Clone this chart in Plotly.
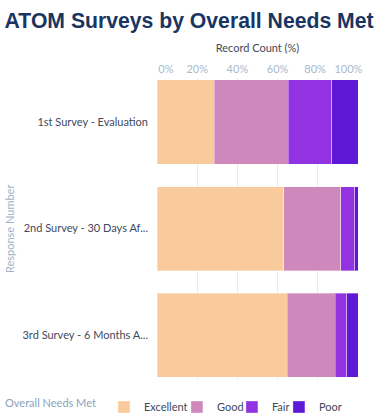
import plotly.graph_objects as go

categories = ["1st Survey - Evaluation", "2nd Survey - 30 Days Af...", "3rd Survey - 6 Months A..."]
series_names = ["Excellent", "Good", "Fair", "Poor"]
excellent = [28.4, 63.0, 64.8]
good = [36.8, 28.5, 23.8]
fair = [21.7, 7.0, 5.8]
poor = [13.1, 1.5, 5.6]
tick_vals = [0, 20, 40, 60, 80, 100]
tick_text = ["\u2002\u2002\u2002\u20090%", "20%", "40%", "60%",
             "80%\u2002", "100%\u2002\u2002\u2002\u2009\u2009"]

colors = ["#F8CA9C", "#CF88BC", "#9232E0", "#5D19D5"]
legend_widths = [28, 10, 2, 26]
values = [excellent, good, fair, poor]

fig = go.Figure()
for name, vals, col, lw in zip(series_names, values, colors, legend_widths):
    fig.add_trace(go.Bar(
        y=categories, x=vals, name=name, orientation="h",
        marker=dict(color=col, line=dict(color="rgba(255,255,255,0.35)", width=1)),
        width=0.79, hoverinfo="x+name", legendwidth=lw,
    ))

fig.update_layout(
    width=383, height=419,
    barmode="stack",
    plot_bgcolor="white", paper_bgcolor="white",
    margin=dict(l=157, r=25, t=78, b=39, autoexpand=False),
    font=dict(family="Lato, 'Open Sans', sans-serif", size=11, color="#3E4A5B"),
    title=dict(text="<b>ATOM Surveys by Overall Needs Met</b>", x=0.012, xanchor="left",
               y=0.952, yanchor="middle",
               font=dict(family="Arial, 'Liberation Sans', sans-serif", size=21.2, color="#1B3562")),
    xaxis=dict(side="top", range=[0, 100], tickvals=tick_vals, ticktext=tick_text,
               showgrid=True, gridcolor="#E6EBF2", gridwidth=1, zeroline=False,
               tickfont=dict(color="#A9B9CD", size=11), ticks="", ticklabelstandoff=2,
               ticklabeloverflow="allow", tickangle=0,
               title=dict(text="Record Count (%)", font=dict(color="#3E4A5B", size=11), standoff=6),
               fixedrange=True),
    yaxis=dict(type="category", range=[2.42, -0.413], showgrid=False, zeroline=False,
               tickfont=dict(color="#3E4A5B", size=11), ticks="", ticklabelstandoff=8,
               fixedrange=True),
    showlegend=True,
    legend=dict(orientation="h", x=-0.766, xanchor="left", y=-0.0894, yanchor="middle",
                title=dict(text="Overall Needs Met", font=dict(color="#8EA2BC", size=11)),
                font=dict(color="#3E4A5B", size=11), traceorder="normal",
                itemwidth=30, tracegroupgap=0),
)

fig.add_annotation(text="Response Number", xref="paper", yref="paper",
                   x=-0.736, y=0.5, textangle=-90, showarrow=False,
                   font=dict(color="#A0B2C8", size=11), xanchor="center", yanchor="middle")

fig.write_html("out.html", config={"displayModeBar": False},
               post_script="document.body.style.margin='0';")
